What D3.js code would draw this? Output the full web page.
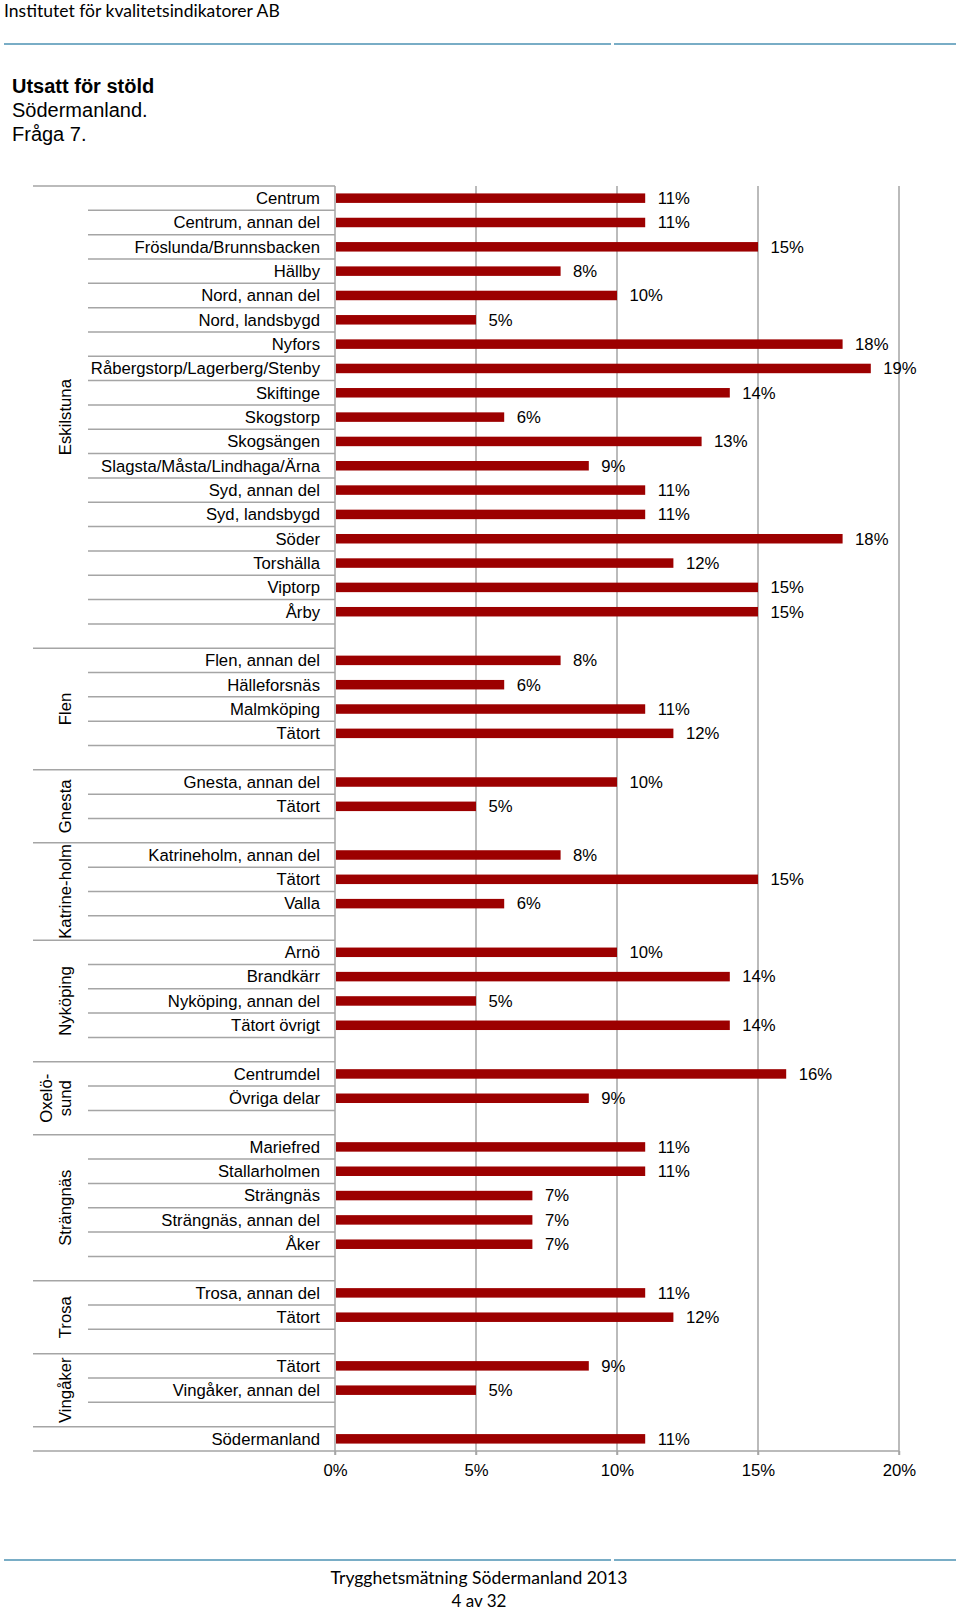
<!DOCTYPE html>
<html>
<head>
<meta charset="utf-8">
<script src="https://cdn.jsdelivr.net/npm/d3@7"></script>
<style>
  html, body { margin: 0; padding: 0; background: #fff; }
  svg { display: block; }
</style>
</head>
<body>
<svg id="chart" width="960" height="1612"></svg>
<script>
// ---------- DATA ----------
const groupNames = ["Eskilstuna", "Flen", "Gnesta", "Katrineholm", "Nyköping", "Oxelösund", "Strängnäs", "Trosa", "Vingåker", ""];
const groupLabels = [["Eskilstuna"], ["Flen"], ["Gnesta"], ["Katrine-holm"], ["Nyköping"], ["Oxelö-", "sund"], ["Strängnäs"], ["Trosa"], ["Vingåker"], []];

const eskilstunaCats = ["Centrum", "Centrum, annan del", "Fröslunda/Brunnsbacken", "Hällby", "Nord, annan del", "Nord, landsbygd", "Nyfors", "Råbergstorp/Lagerberg/Stenby", "Skiftinge", "Skogstorp", "Skogsängen", "Slagsta/Måsta/Lindhaga/Ärna", "Syd, annan del", "Syd, landsbygd", "Söder", "Torshälla", "Viptorp", "Årby"];
const eskilstunaVals = [11, 11, 15, 8, 10, 5, 18, 19, 14, 6, 13, 9, 11, 11, 18, 12, 15, 15];

const flenCats = ["Flen, annan del", "Hälleforsnäs", "Malmköping", "Tätort"];
const flenVals = [8, 6, 11, 12];

const gnestaCats = ["Gnesta, annan del", "Tätort"];
const gnestaVals = [10, 5];

const katrineholmCats = ["Katrineholm, annan del", "Tätort", "Valla"];
const katrineholmVals = [8, 15, 6];

const nykopingCats = ["Arnö", "Brandkärr", "Nyköping, annan del", "Tätort övrigt"];
const nykopingVals = [10, 14, 5, 14];

const oxelosundCats = ["Centrumdel", "Övriga delar"];
const oxelosundVals = [16, 9];

const strangnasCats = ["Mariefred", "Stallarholmen", "Strängnäs", "Strängnäs, annan del", "Åker"];
const strangnasVals = [11, 11, 7, 7, 7];

const trosaCats = ["Trosa, annan del", "Tätort"];
const trosaVals = [11, 12];

const vingakerCats = ["Tätort", "Vingåker, annan del"];
const vingakerVals = [9, 5];

const totalCats = ["Södermanland"];
const totalVals = [11];

const xTicks = [0, 5, 10, 15, 20];

const groupCats = [eskilstunaCats, flenCats, gnestaCats, katrineholmCats, nykopingCats, oxelosundCats, strangnasCats, trosaCats, vingakerCats, totalCats];
const groupVals = [eskilstunaVals, flenVals, gnestaVals, katrineholmVals, nykopingVals, oxelosundVals, strangnasVals, trosaVals, vingakerVals, totalVals];

// ---------- ROWS ----------
const rows = [];
groupNames.forEach((g, gi) => {
  groupCats[gi].forEach((c, ci) => {
    rows.push({ key: gi + "|" + ci, group: gi, cat: c, value: groupVals[gi][ci], blank: false, first: ci === 0 });
  });
  if (gi < groupNames.length - 1) rows.push({ key: gi + "|blank", group: gi, blank: true });
});

// ---------- LAYOUT ----------
const svg = d3.select("#chart");
const FONT = "'Liberation Sans', Arial, sans-serif";
const BODY = "Lato, 'Open Sans', sans-serif";
const gridColor = "#a5a5a5";
const barColor = "#9c0000";

const plotTop = 186, plotBottom = 1451;
const x = d3.scaleLinear().domain([0, 20]).range([335, 899]);
const y = d3.scaleBand().domain(rows.map(r => r.key)).range([plotTop, plotBottom]).padding(0);
const bw = y.bandwidth();

// fit a text's font size so its width matches a target width
function fitText(sel, targetW) {
  const w = sel.node().getComputedTextLength();
  const fs = parseFloat(sel.attr("font-size"));
  if (w > 0) sel.attr("font-size", fs * targetW / w);
}

// header / footer
fitText(svg.append("text").attr("x", 4).attr("y", 17).attr("font-family", BODY).attr("font-size", 16)
  .attr("fill", "#000").text("Institutet för kvalitetsindikatorer AB"), 276);
[[4, 611], [614, 956]].forEach(s => {
  svg.append("line").attr("x1", s[0]).attr("x2", s[1]).attr("y1", 44).attr("y2", 44)
    .attr("stroke", "#79adc6").attr("stroke-width", 2);
  svg.append("line").attr("x1", s[0]).attr("x2", s[1]).attr("y1", 1560).attr("y2", 1560)
    .attr("stroke", "#79adc6").attr("stroke-width", 2);
});
fitText(svg.append("text").attr("x", 479).attr("y", 1584).attr("text-anchor", "middle").attr("font-family", BODY)
  .attr("font-size", 16).text("Trygghetsmätning Södermanland 2013"), 297);
fitText(svg.append("text").attr("x", 479).attr("y", 1607).attr("text-anchor", "middle").attr("font-family", BODY)
  .attr("font-size", 16).text("4 av 32"), 55);

// title
const title = svg.append("g").attr("font-family", FONT).attr("font-size", 20);
title.append("text").attr("x", 12).attr("y", 93).attr("font-weight", "bold").text("Utsatt för stöld");
title.append("text").attr("x", 12).attr("y", 117).text("Södermanland.");
title.append("text").attr("x", 12).attr("y", 141).text("Fråga 7.");

// gridlines
svg.append("g").selectAll("line").data(xTicks.filter(t => t > 0)).join("line")
  .attr("x1", d => x(d)).attr("x2", d => x(d)).attr("y1", plotTop).attr("y2", plotBottom + 4)
  .attr("stroke", gridColor).attr("stroke-width", 1.5);

// category separator lines
const sep = svg.append("g").attr("stroke", gridColor).attr("stroke-width", 1.5);
rows.forEach((r) => {
  const top = y(r.key);
  const isGroupStart = (r.first && !r.blank);
  sep.append("line").attr("x1", isGroupStart ? 33 : 88).attr("x2", x(0)).attr("y1", top).attr("y2", top);
});
sep.append("line").attr("x1", 33).attr("x2", x(0)).attr("y1", plotBottom).attr("y2", plotBottom);

// category labels
svg.append("g").attr("font-family", FONT).attr("font-size", 16.7).attr("fill", "#000")
  .selectAll("text").data(rows.filter(r => !r.blank)).join("text")
  .attr("x", 320).attr("y", d => y(d.key) + bw / 2).attr("dy", "0.35em").attr("text-anchor", "end")
  .text(d => d.cat);

// group labels
groupLabels.forEach((lines, gi) => {
  if (!lines.length) return;
  const gRows = rows.filter(r => r.group === gi);
  const y0 = y(gRows[0].key), y1 = y(gRows[gRows.length - 1].key) + bw;
  const cy = (y0 + y1) / 2;
  const n = lines.length;
  const lh = 19;
  lines.forEach((ln, li) => {
    const cx = 65 - (n - 1 - li) * lh;
    svg.append("text").attr("transform", `translate(${cx},${cy}) rotate(-90)`)
      .attr("text-anchor", "middle").attr("dy", "0.35em")
      .attr("font-family", FONT).attr("font-size", 16.7).text(ln);
  });
});

// bars
const data = rows.filter(r => !r.blank);
const barH = 9.5;
svg.append("g").selectAll("rect").data(data).join("rect")
  .attr("x", x(0) + 1).attr("y", d => y(d.key) + bw / 2 - barH / 2)
  .attr("width", d => x(d.value) - x(0) - 1).attr("height", barH)
  .attr("fill", barColor);

// value labels
svg.append("g").attr("font-family", FONT).attr("font-size", 16.7)
  .selectAll("text").data(data).join("text")
  .attr("x", d => x(d.value) + 12.5).attr("y", d => y(d.key) + bw / 2).attr("dy", "0.35em")
  .text(d => d.value + "%");

// y axis line
svg.append("line").attr("x1", x(0)).attr("x2", x(0)).attr("y1", plotTop).attr("y2", plotBottom + 4)
  .attr("stroke", gridColor).attr("stroke-width", 1.5);

// x axis
const xAxis = d3.axisBottom(x).tickValues(xTicks).tickFormat(d => d + "%").tickSize(4).tickPadding(9);
const ax = svg.append("g").attr("transform", `translate(0,${plotBottom})`).call(xAxis);
ax.select(".domain").attr("stroke", gridColor).attr("stroke-width", 1.5).attr("d", `M${x(0)},0H${x(20)}`);
ax.selectAll(".tick line").attr("stroke", gridColor).attr("stroke-width", 1.5);
ax.selectAll(".tick text").attr("font-family", FONT).attr("font-size", 16.7).attr("fill", "#000");
</script>
</body>
</html>
